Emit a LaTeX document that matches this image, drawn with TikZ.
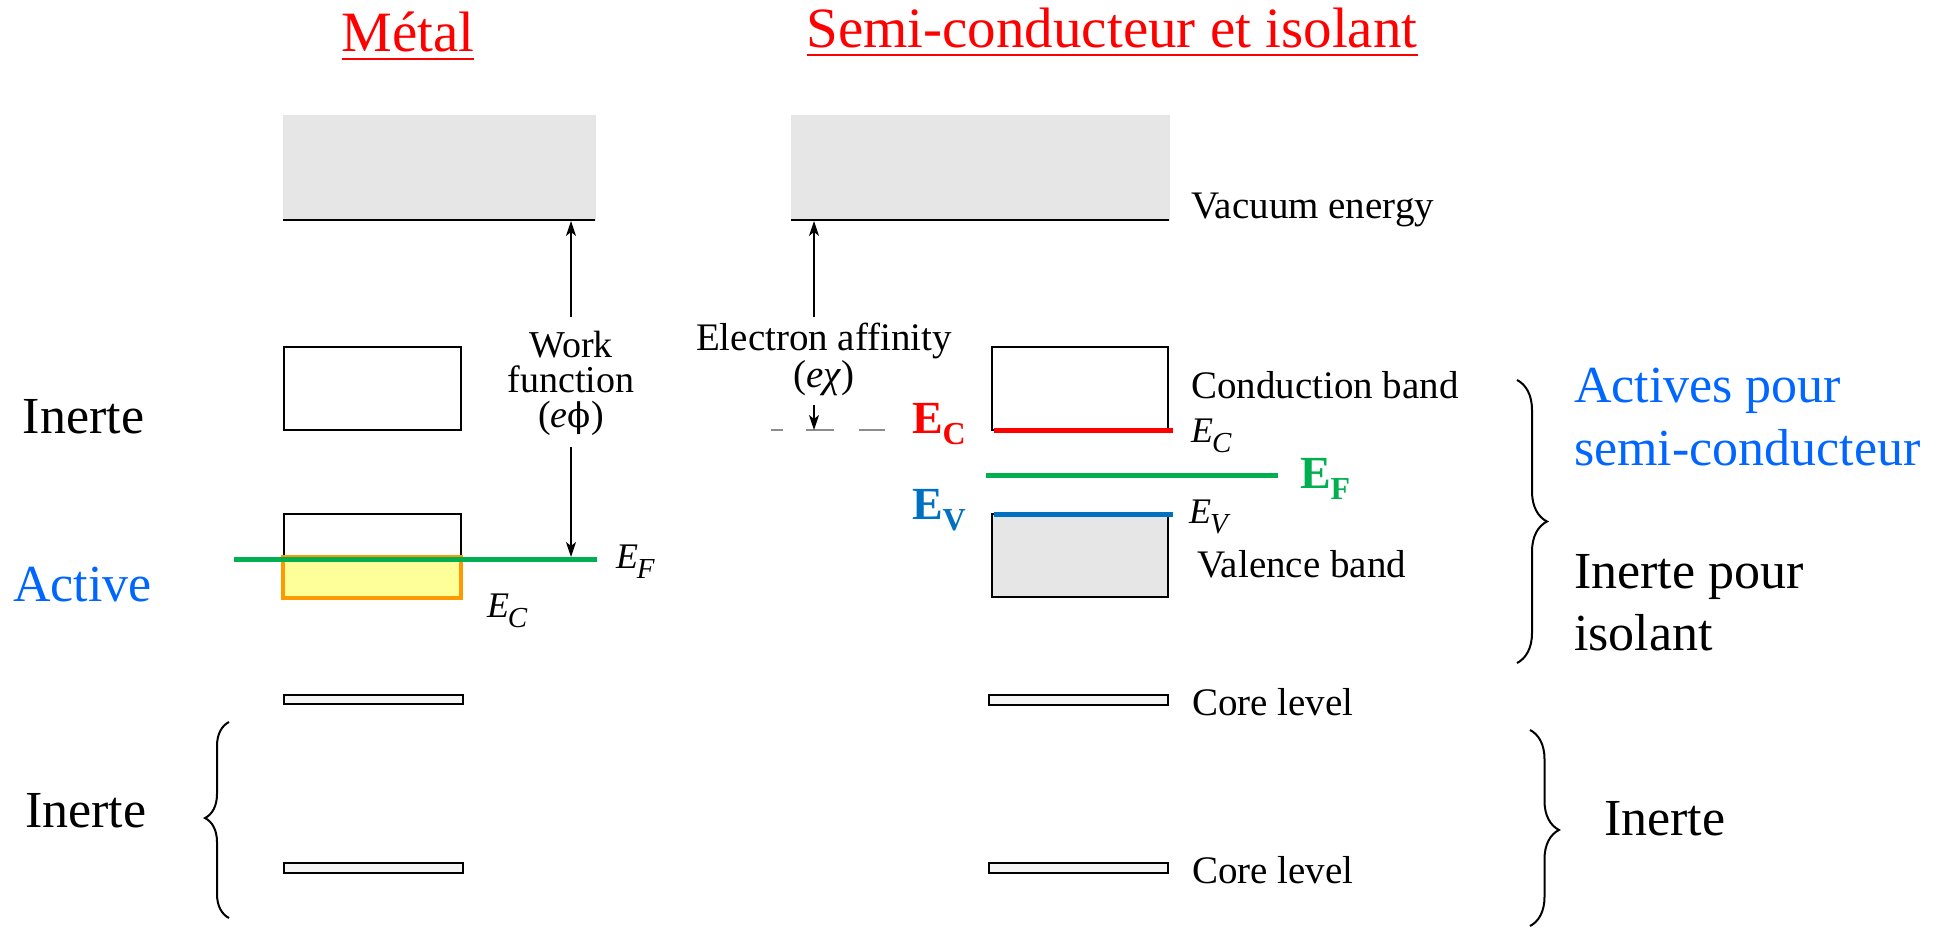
\documentclass[tikz,border=0pt]{standalone}
\usepackage{fontspec}
\setmainfont{Liberation Serif}
\newfontfamily\greekserif{DejaVu Serif}
\usetikzlibrary{arrows.meta,decorations.pathreplacing}
\definecolor{titlered}{RGB}{255,0,0}
\definecolor{actblue}{RGB}{0,102,255}
\definecolor{evblue}{RGB}{0,112,192}
\definecolor{efgreen}{RGB}{0,176,80}
\definecolor{bandorange}{RGB}{255,153,0}
\definecolor{bandyellow}{RGB}{255,255,153}
\definecolor{vacgray}{RGB}{230,230,230}
\definecolor{dashgray}{RGB}{140,140,140}
\newcommand{\itE}[1]{\textit{E\kern-1pt\raisebox{-10pt}{\fontsize{29}{29}\selectfont #1}}}
\newcommand{\bdE}[1]{\textbf{E\raisebox{-11pt}{\fontsize{32}{32}\selectfont #1}}}
\begin{document}
\begin{tikzpicture}[x=1pt,y=-1pt,
  every node/.style={inner sep=0pt, outer sep=0pt},
  titletext/.style={font=\fontsize{57}{66}\selectfont, text=titlered, anchor=base},
  bigtext/.style={font=\fontsize{52}{62}\selectfont, anchor=base west},
  smalltext/.style={font=\fontsize{39}{44}\selectfont, anchor=base west},
  midtext/.style={font=\fontsize{38}{35}\selectfont, anchor=base, align=center},
  itlabel/.style={font=\fontsize{36}{40}\selectfont, anchor=base west},
  bdlabel/.style={font=\fontsize{46}{50}\selectfont, anchor=base west},
  vacbox/.style={fill=vacgray, draw=black!10, line width=0.8pt},
  bandbox/.style={draw=black, line width=1.5pt},
  corebox/.style={draw=black, fill=black!4, line width=1.5pt},
  arr/.style={-{Stealth[length=15pt,width=10pt,inset=4pt]}, line width=1.3pt},
  level/.style={line width=5pt},
  ulined/.style={titlered, line width=2.5pt},
  brc/.style={decorate, line width=2pt}]
\useasboundingbox (0,0) rectangle (1939,928);

% titles
\node[titletext] (tmetal) at (408,52) {Métal};
\node[titletext] (tsc) at (1112,48) {Semi-conducteur et isolant};
\draw[ulined] ([yshift=-7pt]tmetal.base west) -- ([yshift=-7pt]tmetal.base east);
\draw[ulined] ([yshift=-7pt]tsc.base west) -- ([yshift=-7pt]tsc.base east);

% ---------- metal ----------
\draw[vacbox] (283,115) rectangle (595,220);
\draw[line width=2pt] (283,220) -- (595,220);
\draw[bandbox] (284,347) rectangle (461,430);
\draw[bandbox] (284,514) rectangle (461,599);
\draw[fill=bandyellow, draw=bandorange, line width=4pt] (283,557) rectangle (461,598);
\draw[efgreen, level] (234,559) -- (597,559);
\draw[corebox] (284,695) rectangle (463,704);
\draw[corebox] (284,863) rectangle (463,873);

\coordinate (wfvac) at (571,221);
\coordinate (wfstart) at (571,317);
\coordinate (wfend) at (571,447);
\coordinate (wfef) at (571,557);
\draw[arr] (wfstart) -- (wfvac);
\draw[arr] (wfend) -- (wfef);
\node[midtext] (wf) at (571,427) {Work\\function\\(\textit{e}{\greekserif\fontsize{34}{35}\selectfont ϕ})};

\node[itlabel] (mef) at (616,568) {\itE{F}};
\node[itlabel] (mec) at (487,617) {\itE{C}};

% ---------- semiconductor ----------
\draw[vacbox] (791,115) rectangle (1169,220);
\draw[line width=2pt] (791,220) -- (1169,220);
\draw[bandbox] (992,347) rectangle (1168,430);
\draw[red, line width=5pt] (994,430) -- (1173,430);
\draw[efgreen, level] (986,475) -- (1278,475);
\draw[bandbox, fill=vacgray] (992,514) rectangle (1168,597);
\draw[evblue, level] (994,514) -- (1173,514);
\draw[corebox] (989,695) rectangle (1168,705);
\draw[corebox] (989,863) rectangle (1168,873);

\draw[dashgray, line width=1.5pt] (771,430) -- (783,430);
\draw[dashgray, line width=1.5pt] (806,430) -- (834,430);
\draw[dashgray, line width=1.5pt] (859,430) -- (885,430);

\coordinate (eavac) at (814,221);
\coordinate (eastart) at (814,317);
\coordinate (easmall) at (814,405);
\coordinate (eaec) at (814,430);
\draw[arr] (eastart) -- (eavac);
\draw[arr] (easmall) -- (eaec);
\node[midtext, font=\fontsize{39}{37}\selectfont] (ea) at (824,387) {Electron affinity\\(\textit{eχ})};

\node[smalltext] (vacl) at (1191,219) {Vacuum energy};
\node[smalltext] (cbl) at (1191,398) {Conduction band};
\node[itlabel] (scec) at (1191,442) {\itE{C}};
\node[itlabel] (scev) at (1189,523) {\itE{V}};
\node[smalltext] (vbl) at (1197,577) {Valence band};
\node[smalltext] (cl1) at (1192,715) {Core level};
\node[smalltext] (cl2) at (1192,883) {Core level};

\node[bdlabel, text=red] (bec) at (912,433) {\bdE{C}};
\node[bdlabel, text=evblue] (bev) at (912,519) {\bdE{V}};
\node[bdlabel, text=efgreen] (bef) at (1300,488) {\bdE{F}};

% ---------- side labels ----------
\node[bigtext] (in1) at (23,433) {Inerte};
\node[bigtext, text=actblue] (act) at (13,601) {Active};
\node[bigtext] (in2) at (25,827) {Inerte};
\node[bigtext, text=actblue] (ap1) at (1574,402) {Actives pour};
\node[bigtext, text=actblue] (ap2) at (1574,465) {semi-conducteur};
\node[bigtext] (ip1) at (1574,588) {Inerte pour};
\node[bigtext] (ip2) at (1574,650) {isolant};
\node[bigtext] (in3) at (1604,835) {Inerte};

% braces
\coordinate (lb1) at (229,918);
\coordinate (lb2) at (229,722);
\draw[brc, decoration={brace, amplitude=24pt, aspect=0.51}] (lb1) -- (lb2);
\coordinate (rb1) at (1517,380);
\coordinate (rb2) at (1517,663);
\draw[brc, decoration={brace, amplitude=30pt, aspect=0.5}] (rb1) -- (rb2);
\coordinate (rb3) at (1530,730);
\coordinate (rb4) at (1530,926);
\draw[brc, decoration={brace, amplitude=29pt, aspect=0.51}] (rb3) -- (rb4);
\end{tikzpicture}
\end{document}
